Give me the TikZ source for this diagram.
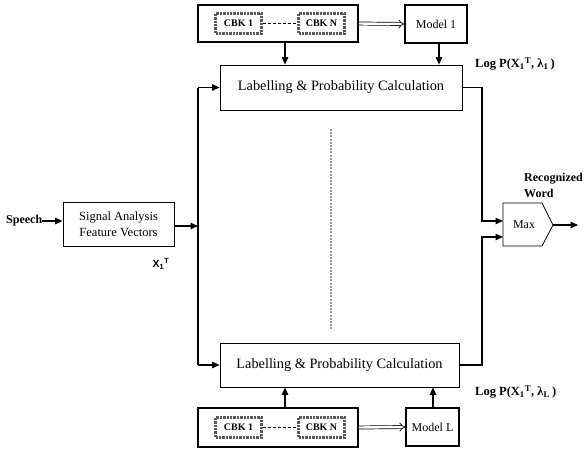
\documentclass[tikz,border=0pt]{standalone}
\usepackage{fontspec}
\setmainfont{Liberation Serif}
\newfontfamily\arialf{Liberation Sans}
\usetikzlibrary{arrows.meta}
\tikzset{
  box/.style={draw, line width=0.8pt, inner sep=0pt, align=center},
  cbouter/.style={draw, line width=1.8pt, inner sep=0pt},
  cbinner/.style={draw=gray!70!black, line width=2.4pt, densely dotted, inner sep=0pt,
    minimum width=46pt, minimum height=20pt, font=\bfseries\fontsize{10}{12}\selectfont},
  conn/.style={line width=1.1pt, -{Triangle[length=7.5pt,width=6.5pt]}},
  wire/.style={line width=1.1pt},
  dbl/.style={double, double distance=2.4pt, line width=0.7pt, -{Implies[length=6pt]}},
  lbl/.style={inner sep=0pt}
}
\begin{document}
\begin{tikzpicture}[x=1pt,y=-1pt]
\useasboundingbox (0,0) rectangle (585,448);
% top codebook
\node[cbouter, minimum width=160pt, minimum height=37pt] (cbt) at (278,23.5) {};
\node[cbinner] (cbt1) at (238.5,23.5) {CBK 1};
\node[cbinner] (cbtn) at (321.5,23.5) {CBK N};
\draw[line width=0.6pt, dash pattern=on 3pt off 2pt] (cbt1) -- (cbtn);
\node[box, line width=1.2pt, minimum width=62pt, minimum height=38pt, font=\fontsize{12}{14}\selectfont] (m1) at (436,24) {Model 1};
\draw[dbl] (cbt.east) -- (m1.west);
% top labelling
\node[box, minimum width=242pt, minimum height=45pt, font=\fontsize{14.3}{16}\selectfont] (lab1) at (341,87.5) {Labelling \& Probability Calculation};
\draw[conn] (cbt.south -| 285,0) -- (lab1.north -| 285,0);
\draw[conn] (m1.south -| 439,0) -- (lab1.north -| 439,0);
% bottom codebook
\node[cbouter, minimum width=160pt, minimum height=39pt] (cbb) at (278,427.5) {};
\node[cbinner] (cbb1) at (238.5,427.5) {CBK 1};
\node[cbinner] (cbbn) at (321.5,427.5) {CBK N};
\draw[line width=0.6pt, dash pattern=on 3pt off 2pt] (cbb1) -- (cbbn);
\node[box, line width=1.2pt, minimum width=53pt, minimum height=38pt, font=\fontsize{12}{14}\selectfont] (mL) at (432.5,427) {Model L};
\draw[dbl] (cbb.east) -- (mL.west);
% bottom labelling
\node[box, minimum width=239pt, minimum height=44pt, font=\fontsize{14.3}{16}\selectfont] (lab2) at (339.5,365) {Labelling \& Probability Calculation};
\draw[conn] (cbb.north -| 285,0) -- (lab2.south -| 285,0);
\draw[conn] (mL.north -| 433,0) -- (lab2.south -| 433,0);
% signal analysis
\node[box, minimum width=111pt, minimum height=44pt, font=\fontsize{12.5}{15.5}\selectfont] (sig) at (118.5,224) {Signal Analysis\\Feature Vectors};
\node[lbl, anchor=west, font=\bfseries\fontsize{12}{14}\selectfont] (sp) at (6,221) {Speech};
\draw[conn] (sp.east) -- (sig.west |- sp.east);
\coordinate (lt) at (198,87.5);
\coordinate (lb) at (198,365);
\coordinate (lm) at (198,226);
\draw[conn] (sig.east |- lm) -- (lm);
\draw[wire] (lt) -- (lb);
\draw[conn] (lt) -- (lab1.west);
\draw[conn] (lb) -- (lab2.west);
\node[lbl, font=\arialf\bfseries\fontsize{10.5}{12}\selectfont] (x1t) at (161,264) {X\textsubscript{1}\textsuperscript{T}};
% dashed vertical
\draw[gray!80, line width=1.3pt, dash pattern=on 2pt off 1.2pt] (331,129) -- (331,330);
% max
\draw[line width=0.8pt] (503,203) -- (542,203) -- (553,225) -- (542,246) -- (503,246) -- cycle;
\node[lbl, font=\fontsize{12}{14}\selectfont] (max) at (524,225) {Max};
\coordinate (mx1) at (503,221);
\coordinate (mx2) at (503,237);
\coordinate (mxo) at (553,225);
\coordinate (out) at (578,225);
\draw[conn] (lab1.east) -- (482,87.5) -- (482,221) -- (mx1);
\draw[conn] (lab2.east) -- (482,365) -- (482,237) -- (mx2);
\draw[conn] (mxo) -- (out);
\node[lbl, anchor=west, align=left, font=\bfseries\fontsize{12}{16}\selectfont] (rw) at (524,185) {Recognized\\Word};
% log labels
\node[lbl, anchor=west, font=\bfseries\fontsize{12.5}{14}\selectfont] (lp1) at (475,64) {Log P(X\textsubscript{1}\textsuperscript{T}, λ\textsubscript{1}\,)};
\node[lbl, anchor=west, font=\bfseries\fontsize{12.5}{14}\selectfont] (lp2) at (475,392) {Log P(X\textsubscript{1}\textsuperscript{T}, λ\textsubscript{L}\,)};
\end{tikzpicture}
\end{document}
